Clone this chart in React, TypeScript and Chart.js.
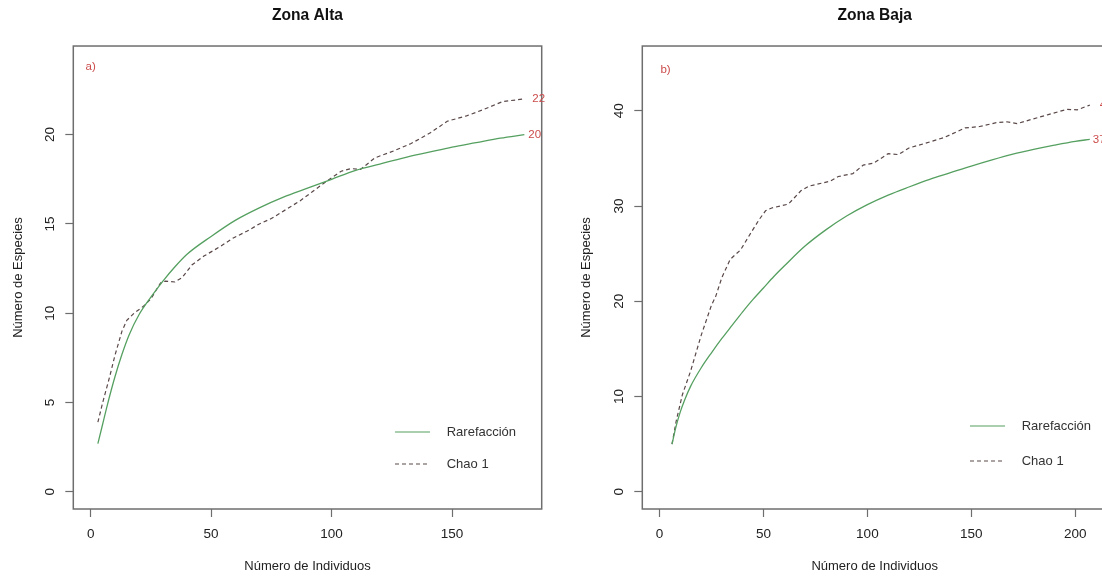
import React, { useEffect, useRef } from "react";
import { Chart, registerables } from "chart.js";

Chart.register(...registerables);

// ---------- Zona Alta (panel a) ----------
const altaRareIndividuos = [3, 5, 7, 10, 13, 16, 20, 25, 30, 35, 40, 50, 60, 70, 80, 90, 100, 110, 120, 130, 140, 150, 160, 170, 180];
const altaRarefaccion = [2.7, 3.8, 4.9, 6.4, 7.7, 8.8, 9.9, 10.9, 11.8, 12.6, 13.3, 14.3, 15.2, 15.9, 16.5, 17.0, 17.5, 18.0, 18.35, 18.7, 19.0, 19.3, 19.55, 19.8, 20.0];
const altaChaoIndividuos = [3, 5, 8, 10, 13, 15, 18, 22, 25, 29, 31, 35, 38, 42, 47, 54, 59, 65, 70, 75, 81, 87, 92, 98, 104, 108, 112, 118, 126, 133, 141, 148, 156, 163, 171, 180];
const altaChao = [3.9, 5.0, 6.5, 7.6, 9.0, 9.6, 10.0, 10.4, 10.8, 11.7, 11.8, 11.75, 12.0, 12.7, 13.2, 13.75, 14.2, 14.6, 15.0, 15.3, 15.8, 16.3, 16.8, 17.4, 17.95, 18.1, 18.05, 18.7, 19.1, 19.5, 20.1, 20.75, 21.05, 21.4, 21.85, 22.0];
const altaXTicks = [0, 50, 100, 150];
const altaYTicks = [0, 5, 10, 15, 20];
const altaXLim = [0, 180];
const altaYLim = [0, 24];

// ---------- Zona Baja (panel b) ----------
const bajaRareIndividuos = [6, 8, 10, 12, 15, 20, 25, 30, 35, 40, 45, 50, 55, 60, 70, 80, 90, 100, 110, 120, 130, 140, 150, 160, 170, 180, 190, 200, 207];
const bajaRarefaccion = [5.0, 6.9, 8.4, 9.6, 11.1, 13.0, 14.6, 16.1, 17.5, 18.9, 20.2, 21.4, 22.6, 23.7, 25.8, 27.5, 28.95, 30.15, 31.15, 32.0, 32.8, 33.5, 34.2, 34.85, 35.45, 35.95, 36.4, 36.8, 37.0];
const bajaChaoIndividuos = [6, 8, 11, 15, 20, 25, 27, 30, 34, 39, 44, 48, 51, 54, 58, 62, 65, 68, 72, 78, 82, 86, 93, 98, 103, 110, 115, 120, 128, 137, 147, 154, 162, 167, 172, 179, 187, 196, 201, 207];
const bajaChao = [5.0, 7.4, 10.2, 12.7, 16.4, 19.6, 20.5, 22.5, 24.4, 25.4, 27.2, 28.6, 29.5, 29.8, 30.0, 30.2, 30.9, 31.6, 32.1, 32.4, 32.6, 33.1, 33.4, 34.3, 34.5, 35.5, 35.4, 36.1, 36.6, 37.2, 38.2, 38.35, 38.75, 38.85, 38.65, 39.1, 39.6, 40.15, 40.1, 40.6];
const bajaXTicks = [0, 50, 100, 150, 200];
const bajaYTicks = [0, 10, 20, 30, 40];
const bajaXLim = [0, 207];
const bajaYLim = [0, 45];

const seriesNames = ["Rarefacción", "Chao 1"];
const xTitle = "Número de Individuos";
const yTitle = "Número de Especies";

const FONT = '"Liberation Sans", Arial, Helvetica, sans-serif';
const GREEN = "#55a060";
const DARK = "#5a4848";
const RED = "#cc4b4b";
const AXIS = "#6e6e6e";
const TEXT = "#222222";

const ext = (lim: number[]) => {
  const d = (lim[1] - lim[0]) * 0.04;
  return [lim[0] - d, lim[1] + d];
};

const decorPlugin = {
  id: "decor",
  afterDraw(chart: any, _args: any, opts: any) {
    const { ctx, chartArea: a, scales } = chart;
    ctx.save();
    // box around the plot region
    ctx.strokeStyle = AXIS;
    ctx.lineWidth = 1.5;
    ctx.strokeRect(a.left, a.top, a.right - a.left, a.bottom - a.top);

    // legend
    const ds = chart.data.datasets;
    const ys = [opts.legendY1, opts.legendY2];
    ds.forEach((d: any, i: number) => {
      ctx.beginPath();
      ctx.strokeStyle = d.borderColor;
      ctx.lineWidth = 1.2;
      ctx.setLineDash(d.borderDash || []);
      ctx.moveTo(opts.legendX, ys[i]);
      ctx.lineTo(opts.legendX + 35, ys[i]);
      ctx.stroke();
      ctx.setLineDash([]);
      ctx.fillStyle = "#333";
      ctx.font = `13px ${FONT}`;
      ctx.textAlign = "left";
      ctx.textBaseline = "middle";
      ctx.fillText(d.label, opts.legendX + 51.7, ys[i] + 0.5);
    });

    // panel letter
    ctx.fillStyle = RED;
    ctx.font = `11.5px ${FONT}`;
    ctx.textAlign = "center";
    ctx.textBaseline = "middle";
    ctx.fillText(opts.letter, scales.x.getPixelForValue(opts.letterAt[0]), scales.y.getPixelForValue(opts.letterAt[1]));

    // end labels (final value of each curve)
    ds.forEach((d: any, i: number) => {
      const last = d.data[d.data.length - 1];
      const px = scales.x.getPixelForValue(last.x) + opts.endDx[i];
      const py = scales.y.getPixelForValue(last.y);
      ctx.textAlign = "left";
      ctx.fillText(String(Math.round(last.y)), px, py);
    });
    ctx.restore();
  },
};

type Panel = {
  title: string;
  xRare: number[];
  yRare: number[];
  xChao: number[];
  yChao: number[];
  xTicks: number[];
  yTicks: number[];
  xLim: number[];
  yLim: number[];
  yAxisWidth: number;
  padRight: number;
  yTitlePad: number;
  legendX: number;
  legendY1: number;
  legendY2: number;
  letter: string;
  letterAt: number[];
  endDx: number[];
};

function buildConfig(p: Panel): any {
  const xr = ext(p.xLim);
  const yr = ext(p.yLim);
  return {
    type: "line",
    data: {
      datasets: [
        {
          label: seriesNames[0],
          data: p.xRare.map((x, i) => ({ x, y: p.yRare[i] })),
          borderColor: GREEN,
          borderWidth: 1.3,
          pointRadius: 0,
          cubicInterpolationMode: "monotone",
          fill: false,
        },
        {
          label: seriesNames[1],
          data: p.xChao.map((x, i) => ({ x, y: p.yChao[i] })),
          borderColor: DARK,
          borderWidth: 1.2,
          borderDash: [4, 3],
          pointRadius: 0,
          tension: 0,
          fill: false,
        },
      ],
    },
    options: {
      animation: false,
      responsive: false,
      events: [],
      layout: { padding: { left: 0, right: p.padRight, top: 0, bottom: 0 } },
      plugins: {
        legend: { display: false },
        tooltip: { enabled: false },
        title: {
          display: true,
          text: p.title,
          fullSize: false,
          color: "#111",
          font: { family: FONT, size: 15.6, weight: "bold", lineHeight: 1.2 },
          padding: { top: 6.1, bottom: 21.2 },
        },
        decor: {
          legendX: p.legendX,
          legendY1: p.legendY1,
          legendY2: p.legendY2,
          letter: p.letter,
          letterAt: p.letterAt,
          endDx: p.endDx,
        },
      },
      scales: {
        x: {
          type: "linear",
          min: xr[0],
          max: xr[1],
          afterBuildTicks: (s: any) => {
            s.ticks = p.xTicks.map((v) => ({ value: v }));
          },
          afterFit: (s: any) => {
            s.height = 70;
          },
          grid: { drawOnChartArea: false, drawTicks: true, tickLength: 8, tickColor: AXIS, tickWidth: 1.2 },
          border: { display: false },
          ticks: {
            autoSkip: false,
            minRotation: 0,
            maxRotation: 0,
            padding: 9.2,
            color: TEXT,
            font: { family: FONT, size: 13.5 },
          },
          title: {
            display: true,
            text: xTitle,
            color: TEXT,
            font: { family: FONT, size: 13 },
            padding: { top: 0, bottom: 4.5 },
          },
        },
        y: {
          type: "linear",
          min: yr[0],
          max: yr[1],
          afterBuildTicks: (s: any) => {
            s.ticks = p.yTicks.map((v) => ({ value: v }));
          },
          afterFit: (s: any) => {
            s.width = p.yAxisWidth;
          },
          grid: { drawOnChartArea: false, drawTicks: true, tickLength: 8, tickColor: AXIS, tickWidth: 1.2 },
          border: { display: false },
          ticks: {
            autoSkip: false,
            minRotation: 90,
            maxRotation: 90,
            crossAlign: "center",
            padding: 8,
            color: TEXT,
            font: { family: FONT, size: 13.5 },
          },
          title: {
            display: true,
            text: yTitle,
            color: TEXT,
            font: { family: FONT, size: 13 },
            padding: { top: p.yTitlePad, bottom: 0 },
          },
        },
      },
    },
    plugins: [decorPlugin],
  };
}

const altaPanel: Panel = {
  title: "Zona Alta",
  xRare: altaRareIndividuos,
  yRare: altaRarefaccion,
  xChao: altaChaoIndividuos,
  yChao: altaChao,
  xTicks: altaXTicks,
  yTicks: altaYTicks,
  xLim: altaXLim,
  yLim: altaYLim,
  yAxisWidth: 73.3,
  padRight: 18.3,
  yTitlePad: 10.8,
  legendX: 395,
  legendY1: 432,
  legendY2: 464,
  letter: "a)",
  letterAt: [0, 23.8],
  endDx: [4, 8],
};

const bajaPanel: Panel = {
  title: "Zona Baja",
  xRare: bajaRareIndividuos,
  yRare: bajaRarefaccion,
  xChao: bajaChaoIndividuos,
  yChao: bajaChao,
  xTicks: bajaXTicks,
  yTicks: bajaYTicks,
  xLim: bajaXLim,
  yLim: bajaYLim,
  yAxisWidth: 82.3,
  padRight: 33,
  yTitlePad: 18.2,
  legendX: 410,
  legendY1: 426,
  legendY2: 461,
  letter: "b)",
  letterAt: [2.9, 44.3],
  endDx: [3, 10],
};

function PanelChart({ panel, left, width }: { panel: Panel; left: number; width: number }) {
  const ref = useRef<HTMLCanvasElement | null>(null);
  useEffect(() => {
    if (!ref.current) return;
    const chart = new Chart(ref.current, buildConfig(panel));
    return () => chart.destroy();
  }, [panel]);
  return (
    <canvas
      ref={ref}
      width={width}
      height={579}
      style={{ position: "absolute", left, top: 0, width, height: 579, display: "block" }}
    />
  );
}

export default function App() {
  return (
    <div
      style={{
        position: "fixed",
        left: 0,
        top: 0,
        width: 1102,
        height: 579,
        overflow: "hidden",
        background: "#ffffff",
      }}
    >
      <PanelChart panel={altaPanel} left={0} width={560} />
      <PanelChart panel={bajaPanel} left={560} width={580} />
    </div>
  );
}
